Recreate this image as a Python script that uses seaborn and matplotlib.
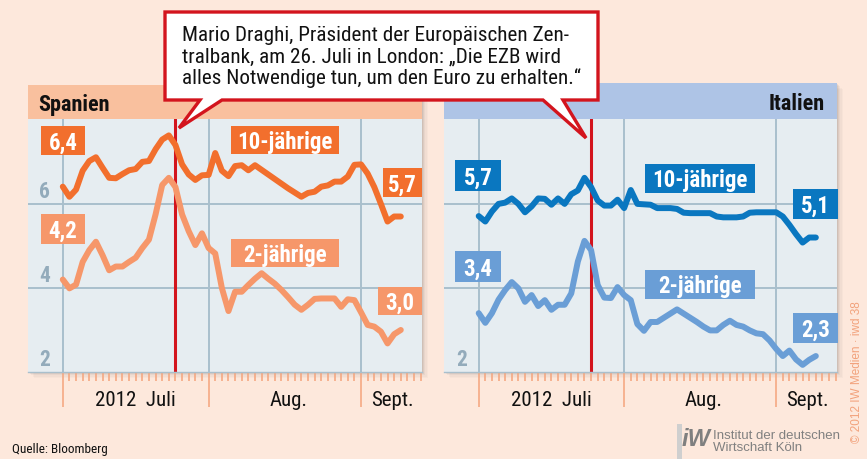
import matplotlib
matplotlib.use("Agg")
import os
import pandas as pd
import matplotlib.pyplot as plt
import matplotlib.transforms as mtransforms
from matplotlib.patches import Rectangle, Polygon
from matplotlib.font_manager import FontProperties, fontManager
import seaborn as sns

# ---------------- data ----------------
trading_day = list(range(52))          # trading days from 2 July 2012
spain_10y = [6.41, 6.17, 6.34, 6.79, 7.02, 7.11, 6.86, 6.62, 6.61, 6.71, 6.80, 6.83, 7.00, 7.02,
             7.30, 7.53, 7.63, 7.40, 6.94, 6.70, 6.57, 6.68, 6.69, 7.21, 6.79, 6.66, 6.90, 6.92,
             6.80, 6.92, 6.81, 6.70, 6.59, 6.48, 6.37, 6.27, 6.17, 6.26, 6.29, 6.41, 6.44, 6.53,
             6.53, 6.65, 6.93, 6.94, 6.72, 6.40, 6.00, 5.58, 5.70, 5.70]
spain_2y = [4.20, 3.99, 4.08, 4.62, 4.90, 5.10, 4.78, 4.42, 4.51, 4.51, 4.62, 4.72, 4.95, 5.15,
            5.75, 6.45, 6.62, 6.40, 5.75, 5.35, 5.02, 5.30, 4.95, 4.82, 4.00, 3.45, 3.91, 3.91,
            4.07, 4.22, 4.35, 4.22, 4.10, 3.95, 3.78, 3.60, 3.48, 3.60, 3.74, 3.75, 3.75, 3.75,
            3.55, 3.73, 3.71, 3.42, 3.12, 3.08, 2.96, 2.68, 2.90, 3.00]
italy_10y = [5.71, 5.58, 5.82, 6.00, 6.03, 6.13, 6.00, 5.80, 5.94, 6.13, 6.12, 5.98, 6.13, 6.00,
             6.23, 6.32, 6.62, 6.40, 6.08, 5.96, 5.96, 6.10, 5.90, 6.33, 6.00, 5.99, 5.98, 5.90,
             5.90, 5.90, 5.88, 5.79, 5.78, 5.78, 5.78, 5.78, 5.70, 5.68, 5.68, 5.68, 5.70, 5.79,
             5.80, 5.80, 5.80, 5.80, 5.70, 5.50, 5.28, 5.08, 5.20, 5.20]
italy_2y = [3.40, 3.17, 3.40, 3.72, 3.95, 4.14, 3.99, 3.67, 3.83, 3.57, 3.71, 3.48, 3.60, 3.60,
            3.87, 4.63, 5.12, 4.90, 4.07, 3.77, 3.76, 4.02, 3.83, 3.71, 3.14, 2.98, 3.19, 3.19,
            3.29, 3.39, 3.49, 3.39, 3.29, 3.19, 3.08, 2.99, 2.99, 3.12, 3.22, 3.12, 3.08, 2.99,
            2.92, 2.90, 2.75, 2.55, 2.38, 2.51, 2.30, 2.17, 2.29, 2.38]
spain_start_labels = ["6,4", "4,2"]
spain_end_labels = ["5,7", "3,0"]
italy_start_labels = ["5,7", "3,4"]
italy_end_labels = ["5,1", "2,3"]
series_names = ["10-jährige", "2-jährige"]
month_start_days = [0, 22, 45]
month_labels = ["2012  Juli", "Aug.", "Sept."]
month_label_days = [11, 34, 49.8]
draghi_day = 17
y_labels_spain = [2, 4, 6]
y_labels_italy = [2]

# ---------------- fonts ----------------
_files = {os.path.basename(f.fname): f.fname for f in fontManager.ttflist}


def _pick(names, weight):
    for n in names:
        if n in _files:
            return FontProperties(fname=_files[n])
    return FontProperties(family="DejaVu Sans", weight=weight, stretch="condensed")


REG = _pick(["NotoSans-Condensed.ttf", "OpenSans_Condensed-Regular.ttf", "OpenSans-CondensedRegular.ttf",
             "RobotoCondensed-Regular.ttf", "LiberationSansNarrow-Regular.ttf", "DejaVuSansCondensed.ttf"], "normal")
BOLD = _pick(["NotoSans-CondensedSemiBold.ttf", "NotoSans-CondensedBold.ttf", "OpenSans_Condensed-SemiBold.ttf",
              "OpenSans_Condensed-Bold.ttf", "RobotoCondensed-Bold.ttf", "LiberationSansNarrow-Bold.ttf",
              "DejaVuSansCondensed-Bold.ttf"], "bold")


def fp(base, size):
    p = base.copy()
    p.set_size(size)
    return p


# ---------------- colours ----------------
BG = "#fde8dc"
PLOT_BG = "#e6edf1"
GRID = "#a9bfcc"
TICK = "#f4a47c"
RED = "#d3141d"
YLAB = "#93abbb"
ES10, ES2 = "#f26f2d", "#f6976a"
IT10, IT2 = "#0a77c0", "#6a9ed6"
BAND_ES, BAND_IT = "#f9c09e", "#aec4e6"

sns.set_style("white")

W, H = 867, 459
fig = plt.figure(figsize=(W / 100, H / 100), dpi=100, facecolor=BG)
PX = mtransforms.Affine2D().scale(1 / W, -1 / H).translate(0, 1) + fig.transFigure


def rect_px(x0, y0, x1, y1):
    return [x0 / W, 1 - y1 / H, (x1 - x0) / W, (y1 - y0) / H]


def shadow(x0, y0, x1, y1):
    for i, a in enumerate([0.10, 0.08, 0.06, 0.04, 0.03]):
        off = 1 + i * 1.2
        fig.add_artist(Rectangle((x0 + off, y0 + off), x1 - x0, y1 - y0, transform=PX,
                                 color="#5a5a5a", alpha=a, lw=0, zorder=-3))


def tag(x0, y0, x1, y1, text, color, size=16.5):
    fig.add_artist(Rectangle((x0, y0), x1 - x0, y1 - y0, transform=PX, color=color, lw=0, zorder=15))
    fig.text((x0 + x1) / 2 / W, 1 - (y0 + y1) / 2 / H, text, color="white", ha="center",
             va="center_baseline", fontproperties=fp(BOLD, size), zorder=16)


def panel(ax, s10, s2, c10, c2, ylabs, ylab_x):
    df = pd.DataFrame({"Tag": trading_day * 2,
                       "Rendite": s10 + s2,
                       "Laufzeit": [series_names[0]] * len(s10) + [series_names[1]] * len(s2)})
    ax.set_facecolor(PLOT_BG)
    for v in (4, 6):
        ax.axhline(v, color=GRID, lw=1.4, zorder=1)
    for d in month_start_days:
        ax.axvline(d, color=GRID, lw=1.4, zorder=1)
    ax.axvline(draghi_day, color=RED, lw=2.2, zorder=2)
    sns.lineplot(data=df, x="Tag", y="Rendite", hue="Laufzeit", palette=[c10, c2],
                 hue_order=series_names, ax=ax, lw=4.3, legend=False, zorder=3,
                 solid_capstyle="round", solid_joinstyle="round")
    ax.set_xlim(-5.25, 54.2)
    ax.set_ylim(2, 8.02)
    ax.set_xlabel("")
    ax.set_ylabel("")
    ax.set_yticks([])
    ax.set_xticks(month_start_days)
    ax.set_xticks(range(1, 55), minor=True)
    ax.set_xticklabels([])
    ax.tick_params(axis="x", which="both", bottom=True, top=False, labelbottom=False)
    ax.tick_params(axis="x", which="major", length=25, width=1.1, color=TICK, direction="out")
    ax.tick_params(axis="x", which="minor", length=6.5, width=1.1, color=TICK, direction="out")
    for s in ax.spines.values():
        s.set_visible(False)
    ax.spines["bottom"].set_visible(True)
    ax.spines["bottom"].set_color(GRID)
    ax.spines["bottom"].set_linewidth(1.0)
    for d, lab in zip(month_label_days, month_labels):
        ax.text(d, -0.113, lab, transform=ax.get_xaxis_transform(), ha="center", va="center",
                fontproperties=fp(REG, 15), color="#111111", clip_on=False)
    for v in ylabs:
        ax.text(ylab_x, v + 0.15, str(v), ha="center", va="baseline", color=YLAB,
                fontproperties=fp(BOLD, 15.5), zorder=2)


# ---------------- layout ----------------
shadow(28, 85, 422, 372)
shadow(444, 83, 837, 372)
fig.add_artist(Rectangle((28, 85), 394, 34, transform=PX, color=BAND_ES, lw=0, zorder=-1))
fig.add_artist(Rectangle((444, 83), 393, 36, transform=PX, color=BAND_IT, lw=0, zorder=-1))
fig.text(38 / W, 1 - 102 / H, "Spanien", ha="left", va="center_baseline", fontproperties=fp(BOLD, 16),
         color="#111111")
fig.text(825 / W, 1 - 102 / H, "Italien", ha="right", va="center_baseline", fontproperties=fp(BOLD, 16),
         color="#111111")

axL = fig.add_axes(rect_px(28, 119, 422, 372))
axR = fig.add_axes(rect_px(444, 119, 837, 372))
panel(axL, spain_10y, spain_2y, ES10, ES2, y_labels_spain, -2.7)
panel(axR, italy_10y, italy_2y, IT10, IT2, y_labels_italy, -2.6)

# value / name tags
tag(41, 126, 85, 155, spain_start_labels[0], ES10)
tag(41, 214, 85, 244, spain_start_labels[1], ES2)
tag(231, 126, 339, 154, series_names[0], ES10)
tag(231, 239, 339, 267, series_names[1], ES2)
tag(383, 168, 422, 197, spain_end_labels[0], ES10)
tag(378, 287, 422, 315, spain_end_labels[1], ES2)

tag(455, 160, 501, 191, italy_start_labels[0], IT10)
tag(455, 251, 501, 282, italy_start_labels[1], IT2)
tag(645, 164, 755, 193, series_names[0], IT10)
tag(645, 270, 755, 299, series_names[1], IT2)
tag(793, 189, 838, 219, italy_end_labels[0], IT10)
tag(793, 313, 838, 343, italy_end_labels[1], IT2)

# callout
callout = [(165, 12), (598, 12), (598, 100), (563, 100), (586, 138), (543, 100),
           (222, 100), (179, 128), (200, 100), (165, 100)]
fig.add_artist(Polygon(callout, closed=True, transform=PX, facecolor="white", edgecolor=RED,
                       lw=2.4, joinstyle="miter", zorder=20))
quote = ("Mario Draghi, Präsident der Europäischen Zen-\n"
         "tralbank, am 26. Juli in London: \u201eDie EZB wird\n"
         "alles Notwendige tun, um den Euro zu erhalten.\u201c")
fig.text(182 / W, 1 - 57 / H, quote, ha="left", va="center", fontproperties=fp(REG, 15.2),
         color="#111111", linespacing=1.12, zorder=21)

# footer
fig.text(12 / W, 1 - 449 / H, "Quelle: Bloomberg", ha="left", va="center", fontproperties=fp(REG, 9.5),
         color="#111111")
fig.add_artist(Rectangle((677, 424), 5, 35, transform=PX, color="#cfcfcf", lw=0, zorder=2))
fig.text(682 / W, 1 - 440 / H, "iW", ha="left", va="center", fontsize=17, fontweight="bold",
         fontstyle="italic", color="#7f7f7f", family="Liberation Sans")
fig.text(713 / W, 1 - 436 / H, "Institut der deutschen", ha="left", va="center", fontsize=9.5,
         color="#808080", family="Liberation Sans")
fig.text(713 / W, 1 - 448 / H, "Wirtschaft Köln", ha="left", va="center", fontsize=9.5,
         color="#808080", family="Liberation Sans")
fig.text(857 / W, 1 - 372 / H, "\u00a9 2012 IW Medien \u00b7 iwd 38", ha="center", va="center",
         rotation=90, fontsize=8.5, color="#f2a27c", family="Liberation Sans")

fig.savefig("out.png", dpi=100, facecolor=BG)
